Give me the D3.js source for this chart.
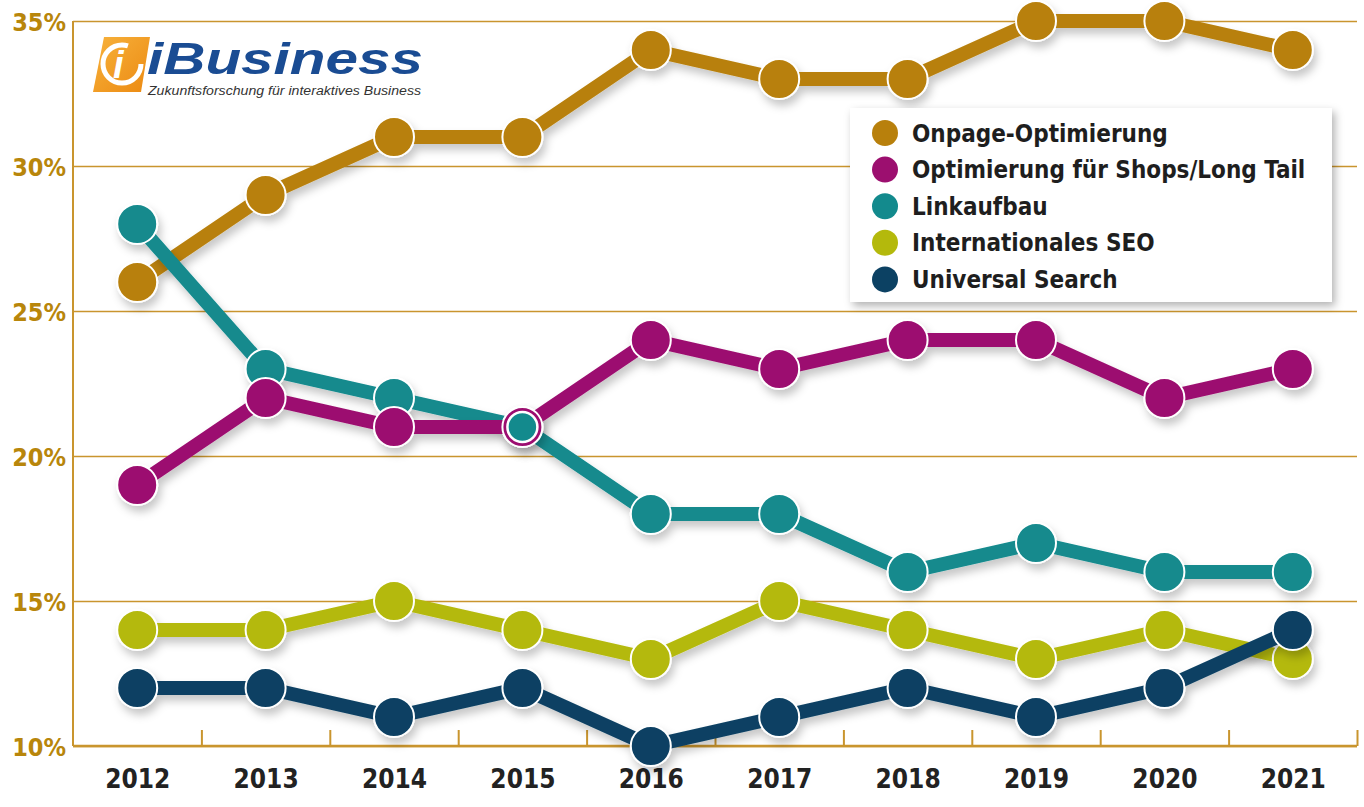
<!DOCTYPE html>
<html>
<head>
<meta charset="utf-8">
<script src="https://cdn.jsdelivr.net/npm/d3@7"></script>
<style>
  html, body { margin: 0; padding: 0; background: #fff; }
  svg { display: block; }
  .axis-y text { fill: #b8860b; font-family: "DejaVu Sans Condensed", "DejaVu Sans", sans-serif; font-weight: bold; font-size: 25px; }
  .axis-x text { fill: #222; font-family: "DejaVu Sans Condensed", "DejaVu Sans", sans-serif; font-weight: bold; font-size: 26px; }
  .legend text { fill: #1e1e1e; font-family: "DejaVu Sans Condensed", "DejaVu Sans", sans-serif; font-weight: bold; font-size: 24px; }
</style>
</head>
<body>
<div id="chart"></div>
<script>
const years = [2012, 2013, 2014, 2015, 2016, 2017, 2018, 2019, 2020, 2021];
const yTicks = [10, 15, 20, 25, 30, 35];

const seriesNames = ['Onpage-Optimierung', 'Optimierung für Shops/Long Tail', 'Linkaufbau', 'Internationales SEO', 'Universal Search'];
const seriesColors = ['#b8800c', '#9c0f6f', '#138a8d', '#b4b90c', '#0c4163'];

const onpage = [26, 29, 31, 31, 34, 33, 33, 35, 35, 34];
const shops = [19, 22, 21, 21, 24, 23, 24, 24, 22, 23];
const linkaufbau = [28, 23, 22, 21, 18, 18, 16, 17, 16, 16];
const international = [14, 14, 15, 14, 13, 15, 14, 13, 14, 13];
const universal = [12, 12, 11, 12, 10, 11, 12, 11, 12, 14];

const seriesValues = [onpage, shops, linkaufbau, international, universal];
// paint order: bottom to top
const drawOrder = [0, 3, 4, 2, 1];

const W = 1364, H = 807;
const margin = { top: 21, right: 7, bottom: 61, left: 73 };
const width = W - margin.left - margin.right;
const height = H - margin.top - margin.bottom;

const svg = d3.select('#chart').append('svg')
  .attr('width', W)
  .attr('height', H);

const defs = svg.append('defs');
const shadow = defs.append('filter').attr('id', 'shadow')
  .attr('x', '-20%').attr('y', '-20%').attr('width', '140%').attr('height', '160%');
shadow.append('feDropShadow')
  .attr('dx', 3).attr('dy', 6).attr('stdDeviation', 4)
  .attr('flood-color', '#000').attr('flood-opacity', 0.22);

const boxShadow = defs.append('filter').attr('id', 'boxshadow')
  .attr('x', '-10%').attr('y', '-10%').attr('width', '120%').attr('height', '130%');
boxShadow.append('feDropShadow')
  .attr('dx', 3).attr('dy', 4).attr('stdDeviation', 4)
  .attr('flood-color', '#000').attr('flood-opacity', 0.3);

const logoGrad = defs.append('linearGradient').attr('id', 'logograd')
  .attr('x1', 0).attr('y1', 0).attr('x2', 1).attr('y2', 1);
logoGrad.append('stop').attr('offset', '0%').attr('stop-color', '#f7b23c');
logoGrad.append('stop').attr('offset', '100%').attr('stop-color', '#ec8a12');

const chart = svg.append('g')
  .attr('transform', `translate(${margin.left}, ${margin.top})`);

// scales
const xScale = d3.scalePoint().domain(years).range([0, width]).padding(0.5);
const xBounds = d3.scaleLinear().domain([0, years.length]).range([0, width]);
const yScale = d3.scaleLinear().domain([10, 35]).range([height, 0]);

// y axis + grid
const yAxis = chart.append('g')
  .attr('class', 'axis axis-y')
  .call(d3.axisLeft(yScale).tickValues(yTicks).tickFormat(d => d + '%').tickSize(-width).tickPadding(7));
yAxis.select('.domain').remove();
yAxis.selectAll('.tick line').attr('stroke', '#c9952e').attr('stroke-width', 1.6);
yAxis.selectAll('.tick text').attr('dy', '0.36em');

chart.append('line')
  .attr('x1', 0).attr('x2', 0)
  .attr('y1', yScale(35)).attr('y2', height)
  .attr('stroke', '#c9952e').attr('stroke-width', 2);

// x axis: tick marks between years
const xTickAxis = chart.append('g')
  .attr('class', 'axis axis-xticks')
  .attr('transform', `translate(0, ${height})`)
  .call(d3.axisBottom(xBounds).tickValues(d3.range(1, years.length + 1)).tickSize(-16).tickFormat(''));
xTickAxis.select('.domain').remove();
xTickAxis.selectAll('.tick line').attr('stroke', '#c9952e').attr('stroke-width', 2);

chart.append('line')
  .attr('x1', 0).attr('x2', width)
  .attr('y1', height).attr('y2', height)
  .attr('stroke', '#c9952e').attr('stroke-width', 2.5);

const xAxis = chart.append('g')
  .attr('class', 'axis axis-x')
  .attr('transform', `translate(0, ${height})`)
  .call(d3.axisBottom(xScale).tickSize(0).tickPadding(24));
xAxis.select('.domain').remove();

// series
const line = d3.line()
  .x((d, i) => xScale(years[i]))
  .y(d => yScale(d));

drawOrder.forEach(s => {
  const g = chart.append('g').attr('class', 'series').attr('filter', 'url(#shadow)');
  g.append('path')
    .datum(seriesValues[s])
    .attr('fill', 'none')
    .attr('stroke', seriesColors[s])
    .attr('stroke-width', 14)
    .attr('stroke-linejoin', 'round')
    .attr('d', line);
  g.selectAll('circle')
    .data(seriesValues[s])
    .enter()
    .append('circle')
    .attr('cx', (d, i) => xScale(years[i]))
    .attr('cy', d => yScale(d))
    .attr('r', 20)
    .attr('fill', seriesColors[s])
    .attr('stroke', '#fff')
    .attr('stroke-width', 2);
});

// where Linkaufbau meets Shops, show it as an inner dot
const overlap = years.map((y, i) => ({ year: y, v: linkaufbau[i], same: linkaufbau[i] === shops[i] }))
  .filter(d => d.same);
chart.append('g').selectAll('circle')
  .data(overlap)
  .enter()
  .append('circle')
  .attr('cx', d => xScale(d.year))
  .attr('cy', d => yScale(d.v))
  .attr('r', 15)
  .attr('fill', seriesColors[2])
  .attr('stroke', '#fff')
  .attr('stroke-width', 2.5);

// legend
const legend = svg.append('g').attr('class', 'legend');
legend.append('rect')
  .attr('x', 850).attr('y', 108)
  .attr('width', 482).attr('height', 194)
  .attr('fill', '#fff')
  .attr('filter', 'url(#boxshadow)');
const items = legend.selectAll('g.item')
  .data(seriesNames)
  .enter()
  .append('g')
  .attr('class', 'item')
  .attr('transform', (d, i) => `translate(885, ${133 + i * 36.6})`);
items.append('circle')
  .attr('r', 13)
  .attr('fill', (d, i) => seriesColors[i]);
items.append('text')
  .attr('x', 27)
  .attr('dy', '0.36em')
  .text(d => d);

// logo
const logo = svg.append('g').attr('class', 'logo');
logo.append('path')
  .attr('d', 'M104,37 L150,37 L141,92 L93,92 Z')
  .attr('fill', 'url(#logograd)');
logo.append('circle')
  .attr('cx', 122).attr('cy', 64).attr('r', 19)
  .attr('fill', 'none').attr('stroke', '#fff').attr('stroke-width', 5)
  .attr('stroke-dasharray', '95 25');
logo.append('text')
  .attr('x', 113).attr('y', 78)
  .attr('fill', '#fff')
  .attr('font-family', 'Liberation Sans, Arial, sans-serif')
  .attr('font-weight', 'bold').attr('font-style', 'italic')
  .attr('font-size', 38)
  .text('i');
logo.append('text')
  .attr('x', 147).attr('y', 74)
  .attr('fill', '#1a4c93')
  .attr('font-family', 'Liberation Sans, Arial, sans-serif')
  .attr('font-weight', 'bold').attr('font-style', 'italic')
  .attr('font-size', 45)
  .attr('textLength', 276).attr('lengthAdjust', 'spacingAndGlyphs')
  .text('iBusiness');
logo.append('text')
  .attr('x', 148).attr('y', 95)
  .attr('fill', '#333')
  .attr('font-family', 'Liberation Sans, Arial, sans-serif')
  .attr('font-style', 'italic')
  .attr('font-size', 12)
  .attr('textLength', 273).attr('lengthAdjust', 'spacingAndGlyphs')
  .text('Zukunftsforschung für interaktives Business');
</script>
</body>
</html>
